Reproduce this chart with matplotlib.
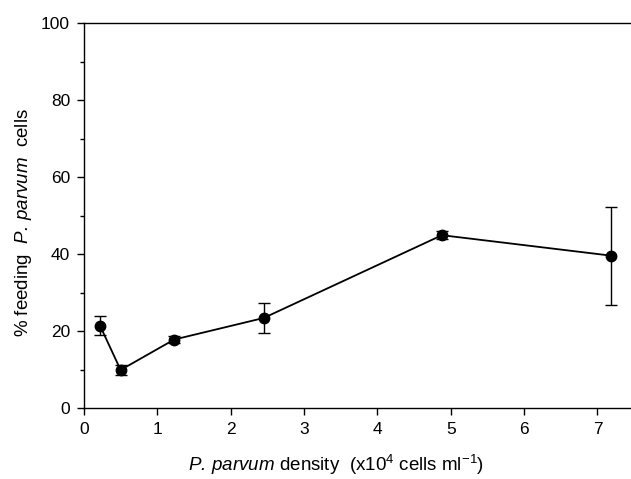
import matplotlib
matplotlib.use("Agg")
import matplotlib.pyplot as plt
from matplotlib.ticker import MultipleLocator

# P. parvum density (x10^4 cells/ml) vs % feeding cells
density = [0.22, 0.50, 1.23, 2.45, 4.88, 7.18]
feeding = [21.4, 9.9, 17.8, 23.4, 44.9, 39.6]
feeding_err = [2.5, 1.2, 0.8, 3.9, 1.0, 12.7]

x_ticks = [0, 1, 2, 3, 4, 5, 6, 7]
y_ticks = [0, 20, 40, 60, 80, 100]

plt.rcParams["font.family"] = ["Liberation Sans", "DejaVu Sans"]
plt.rcParams["mathtext.fontset"] = "custom"
plt.rcParams["mathtext.rm"] = "Liberation Sans"
plt.rcParams["mathtext.it"] = "Liberation Sans:italic"
# sf slot used for the italic species name (no italic-correction gaps)
plt.rcParams["mathtext.sf"] = "Liberation Sans:italic"

fig = plt.figure(figsize=(6.31, 4.79), dpi=100)
ax = fig.add_axes([0.133, 0.148, 0.872, 0.804])

ax.errorbar(density, feeding, yerr=feeding_err, color="black", linewidth=1.3,
            marker="o", markersize=7.5, elinewidth=1.0, capsize=4.5, capthick=1.0)

ax.set_xlim(0, 7.5)
ax.set_ylim(0, 100)
ax.set_xticks(x_ticks)
ax.set_yticks(y_ticks)
ax.yaxis.set_minor_locator(MultipleLocator(10))

ax.spines["right"].set_visible(False)
for side in ["left", "bottom", "top"]:
    ax.spines[side].set_linewidth(1.0)

ax.tick_params(axis="both", which="major", direction="out", length=5,
               width=1.0, labelsize=12.5, pad=5)
ax.tick_params(axis="y", which="minor", direction="out", length=3, width=1.0)

species = r"$\mathsf{P.\,parvum}$"
ax.set_xlabel(species + r" density  (x10$^4$ cells ml$^{-1}$)", fontsize=13.5)
ax.set_ylabel("% feeding  " + species + "  cells", fontsize=13.5)
ax.xaxis.set_label_coords(0.458, -0.117)
ax.yaxis.set_label_coords(-0.09, 0.483)

fig.savefig("out.png", dpi=100)
